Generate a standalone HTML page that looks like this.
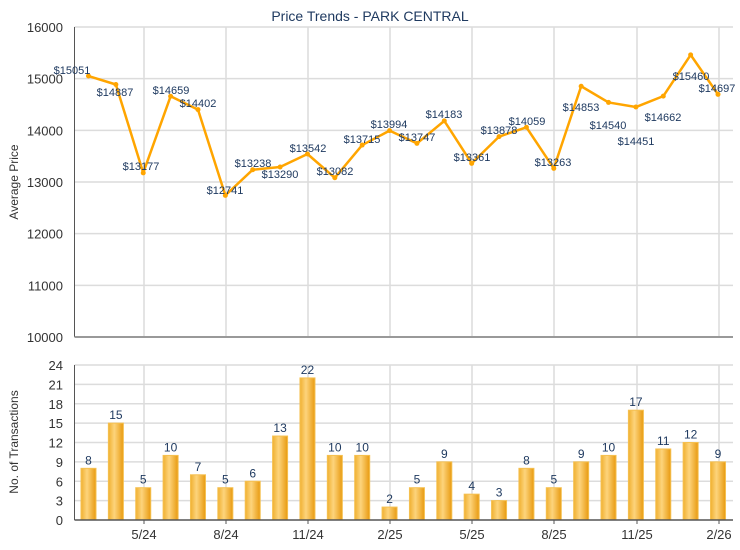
<!DOCTYPE html>
<html><head><meta charset="utf-8"><style>
html,body{margin:0;padding:0;background:#fff;}
svg{display:block;font-family:"Liberation Sans",Arial,sans-serif;}
</style></head><body>
<svg id="c" width="740" height="550" xmlns="http://www.w3.org/2000/svg">
<defs>
<linearGradient id="bg" x1="0" x2="1" y1="0" y2="0">
<stop offset="0" stop-color="#f0b030"/><stop offset="0.4" stop-color="#fdd47c"/><stop offset="1" stop-color="#e89a10"/>
</linearGradient>
</defs>
<text x="370" y="21" text-anchor="middle" font-size="14" fill="#1f3a60">Price Trends - PARK CENTRAL</text>
</svg>
<script>
const s=document.getElementById('c');const NS='http://www.w3.org/2000/svg';
function el(t,a,txt){const e=document.createElementNS(NS,t);for(const k in a)e.setAttribute(k,a[k]);if(txt!==undefined)e.textContent=txt;s.appendChild(e);return e;}
const L=74.5,R=733,T1=27,B1=337,T2=365,B2=520;
const X=i=>88.5+27.37*i;
const vg=[144,226,308,390,472,554,637,719];
// top grid
for(let v=10000;v<=16000;v+=1000){const y=B1-(v-10000)/6000*(B1-T1);
 if(v>10000)el('line',{x1:L,x2:R,y1:y,y2:y,stroke:'#dcdcdc','stroke-width':1.5});
 el('text',{x:63,y:y+5,'text-anchor':'end','font-size':13,fill:'#333'},v);}
vg.forEach(x=>{el('line',{x1:x,x2:x,y1:T1,y2:B1,stroke:'#dcdcdc','stroke-width':1.5});el('line',{x1:x,x2:x,y1:T2,y2:B2,stroke:'#dcdcdc','stroke-width':1.5});});
el('line',{x1:L,x2:L,y1:T1,y2:B1,stroke:'#555','stroke-width':1});
el('line',{x1:L,x2:R,y1:B1,y2:B1,stroke:'#999','stroke-width':2});
el('text',{x:0,y:0,transform:'translate(18,182) rotate(-90)','text-anchor':'middle','font-size':12,fill:'#333'},'Average Price');
// bottom grid
for(let v=0;v<=24;v+=3){const y=B2-v/24*(B2-T2);
 if(v>0)el('line',{x1:L,x2:R,y1:y,y2:y,stroke:'#dcdcdc','stroke-width':1.5});
 el('text',{x:63,y:y+5,'text-anchor':'end','font-size':13,fill:'#333'},v);}
el('line',{x1:L,x2:L,y1:T2,y2:B2,stroke:'#555','stroke-width':1});
el('text',{x:0,y:0,transform:'translate(18,442) rotate(-90)','text-anchor':'middle','font-size':12,fill:'#333'},'No. of Transactions');
const labs=['5/24','8/24','11/24','2/25','5/25','8/25','11/25','2/26'];
vg.forEach((x,i)=>{el('line',{x1:x,x2:x,y1:B2,y2:B2+4,stroke:'#555'});el('text',{x:x,y:539,'text-anchor':'middle','font-size':13,fill:'#333'},labs[i]);});
// bars
const n=[8,15,5,10,7,5,6,13,22,10,10,2,5,9,4,3,8,5,9,10,17,11,12,9];
n.forEach((v,i)=>{const h=v/24*(B2-T2);const x=X(i);
 el('rect',{x:x-7.5,y:B2-h,width:15,height:h,fill:'url(#bg)',stroke:'#f5c050','stroke-width':1});
 el('text',{x:x,y:B2-h-4,'text-anchor':'middle','font-size':12,fill:'#1f3a60'},v);});
el('line',{x1:L,x2:R,y1:B2,y2:B2,stroke:'#555','stroke-width':1.5});
// line
const p=[15051,14887,13177,14659,14402,12741,13238,13290,13542,13082,13715,13994,13747,14183,13361,13878,14059,13263,14853,14540,14451,14662,15460,14697];
const Y=v=>B1-(v-10000)/6000*(B1-T1);
el('polyline',{points:p.map((v,i)=>X(i)+','+Y(v)).join(' '),fill:'none',stroke:'#ffa500','stroke-width':2.5,'stroke-linejoin':'round'});
p.forEach((v,i)=>el('circle',{cx:X(i),cy:Y(v),r:2.5,fill:'#ffa500'}));
const lp=[[72,70],[115,92],[141,166],[171,90],[198,103],[225,190],[253,163],[280,174],[308,148],[335,171],[362,139],[389,124],[417,137],[444,114],[472,157],[499,130],[527,121],[553,162],[581,107],[608,125],[636,141],[663,117],[691,76],[717,88]];
p.forEach((v,i)=>el('text',{x:lp[i][0],y:lp[i][1]+4,'text-anchor':'middle','font-size':11,fill:'#1f3a60'},'$'+v));
</script>
</body></html>
